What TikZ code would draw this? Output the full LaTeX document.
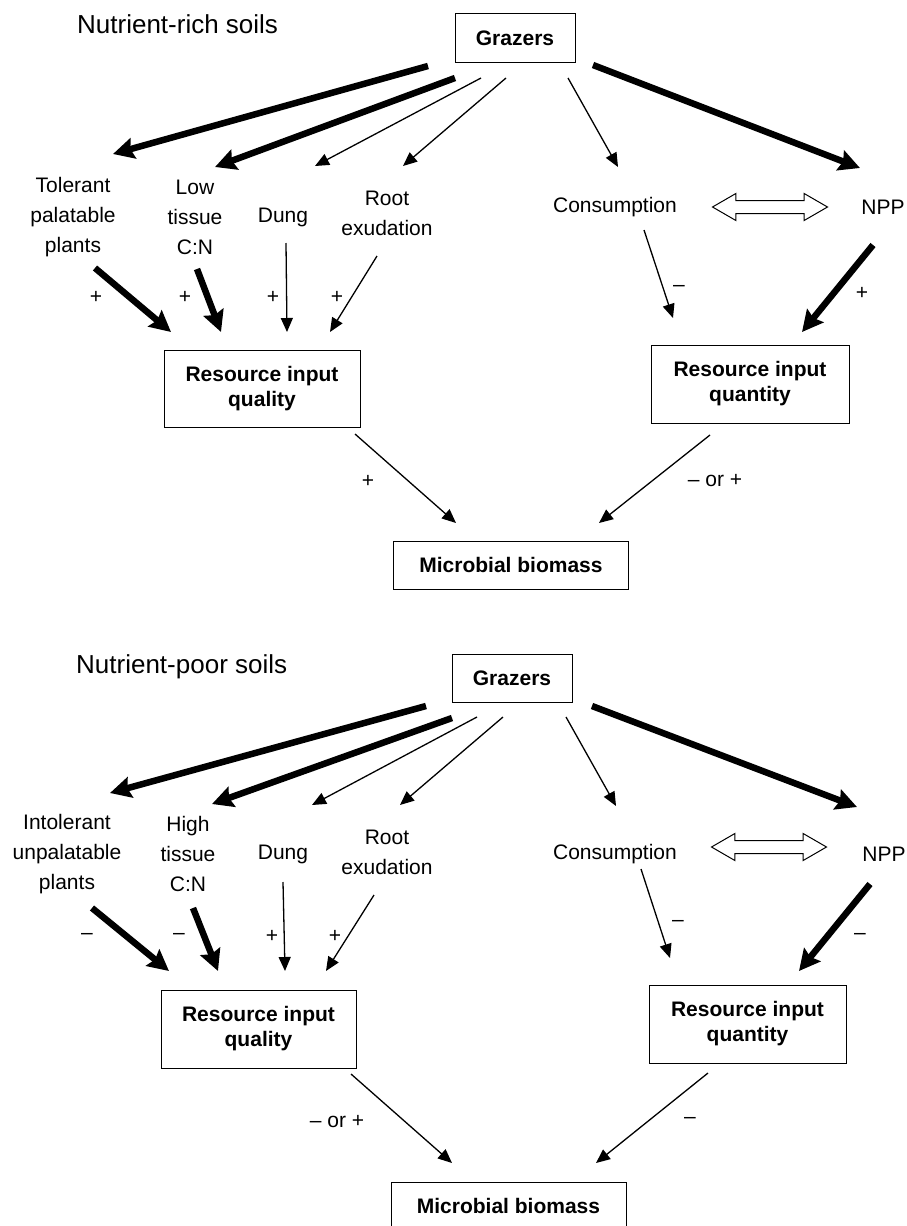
\documentclass[tikz,border=0pt]{standalone}
\usepackage{fontspec}
\setmainfont{Liberation Sans}
\usepackage{tikz}
\usetikzlibrary{arrows.meta, shapes.arrows}

\begin{document}
\begin{tikzpicture}[
    x=1pt, y=-1pt,
    box/.style   = {rectangle, draw, line width=1pt, align=center, inner sep=0pt,
                    font=\bfseries\fontsize{21}{25}\selectfont},
    lab/.style   = {align=center, inner sep=0pt, font=\fontsize{21}{30}\selectfont},
    sgn/.style   = {inner sep=0pt, font=\fontsize{21}{25}\selectfont},
    ttl/.style   = {anchor=base west, inner sep=0pt, font=\fontsize{26}{30}\selectfont},
    fat/.style   = {-{Stealth[length=21pt, width=21pt, inset=3pt]}, line width=6.5pt},
    slim/.style  = {-{Triangle[length=14pt, width=12pt]}, line width=1.3pt},
    swap/.style  = {double arrow, draw, line width=1pt, fill=white,
                    inner xsep=0pt, inner ysep=6pt,
                    minimum height=115pt, minimum width=26pt,
                    double arrow head extend=7pt, double arrow tip angle=60}
  ]
  \useasboundingbox (0,0) rectangle (907,1226);

  % ── Nutrient-rich soils ────────────────────────────────────────────────────
  \node[ttl] (title1) at (77,33) {Nutrient-rich soils};
  \node[box, minimum width=120pt, minimum height=49pt] (graz1) at (515,38) {Grazers};

  \node[lab] (tol)   at (73,217)  {Tolerant\\palatable\\plants};
  \node[lab] (low)   at (195,217) {Low\\tissue\\C:N};
  \node[lab] (dung1) at (283,217) {Dung};
  \node[lab] (root1) at (387,213) {Root\\exudation};
  \node[lab] (cons1) at (615,207) {Consumption};
  \node[lab] (npp1)  at (883,207) {NPP};
  \node[swap] (link1) at (770,207) {};

  \node[box, minimum width=196pt, minimum height=77pt] (qual1) at (262,389)
    {Resource input\\quality};
  \node[box, minimum width=198pt, minimum height=78pt] (quan1) at (750,384)
    {Resource input\\quantity};
  \node[box, minimum width=235pt, minimum height=48pt] (micro1) at (511,565)
    {Microbial biomass};

  \draw[fat]  ([shift={(-87,28)}]graz1.center) -- ([shift={(40,-63)}]tol.center);
  \draw[fat]  ([shift={(-60,40)}]graz1.center) -- ([shift={(20,-50)}]low.center);
  \draw[slim] ([shift={(-34,40)}]graz1.center) -- ([shift={(32,-51)}]dung1.center);
  \draw[slim] ([shift={(-9,40)}]graz1.center)  -- ([shift={(16,-47)}]root1.center);
  \draw[slim] ([shift={(53,40)}]graz1.center)  -- ([shift={(3,-40)}]cons1.center);
  \draw[fat]  ([shift={(78,27)}]graz1.center)  -- ([shift={(-23,-39)}]npp1.center);

  \draw[fat]  ([shift={(22,51)}]tol.center)    -- ([shift={(-91,-57)}]qual1.center);
  \draw[fat]  ([shift={(2,52)}]low.center)     -- ([shift={(-41,-57)}]qual1.center);
  \draw[slim] ([shift={(3,26)}]dung1.center)   -- ([shift={(25,-57)}]qual1.center);
  \draw[slim] ([shift={(-10,43)}]root1.center) -- ([shift={(68,-57)}]qual1.center);
  \draw[slim] ([shift={(29,23)}]cons1.center)  -- ([shift={(-77,-66)}]quan1.center);
  \draw[fat]  ([shift={(-10,38)}]npp1.center)  -- ([shift={(52,-52)}]quan1.center);
  \draw[slim] ([shift={(93,45)}]qual1.center)  -- ([shift={(-55,-42)}]micro1.center);
  \draw[slim] ([shift={(-40,51)}]quan1.center) -- ([shift={(88,-42)}]micro1.center);

  \node[sgn] (s11) at (96,297)  {+};
  \node[sgn] (s12) at (185,297) {+};
  \node[sgn] (s13) at (273,297) {+};
  \node[sgn] (s14) at (337,297) {+};
  \node[sgn] (s15) at (679,288) {--};
  \node[sgn] (s16) at (862,293) {+};
  \node[sgn] (s17) at (368,481) {+};
  \node[sgn] (s18) at (715,481) {-- or +};

  % ── Nutrient-poor soils ────────────────────────────────────────────────────
  \node[ttl] (title2) at (76,673) {Nutrient-poor soils};
  \node[box, minimum width=120pt, minimum height=48pt] (graz2) at (512,678) {Grazers};

  \node[lab] (intol) at (67,854)  {Intolerant\\unpalatable\\plants};
  \node[lab] (high)  at (188,854) {High\\tissue\\C:N};
  \node[lab] (dung2) at (283,854) {Dung};
  \node[lab] (root2) at (387,852) {Root\\exudation};
  \node[lab] (cons2) at (615,854) {Consumption};
  \node[lab] (npp2)  at (884,854) {NPP};
  \node[swap] (link2) at (769,847) {};

  \node[box, minimum width=195pt, minimum height=78pt] (qual2) at (258.5,1029)
    {Resource input\\quality};
  \node[box, minimum width=197pt, minimum height=78pt] (quan2) at (747.5,1024)
    {Resource input\\quantity};
  \node[box, minimum width=235pt, minimum height=48pt] (micro2) at (508.5,1206)
    {Microbial biomass};

  \draw[fat]  ([shift={(-86,28)}]graz2.center) -- ([shift={(43,-61)}]intol.center);
  \draw[fat]  ([shift={(-60,40)}]graz2.center) -- ([shift={(24,-50)}]high.center);
  \draw[slim] ([shift={(-35,39)}]graz2.center) -- ([shift={(29,-49)}]dung2.center);
  \draw[slim] ([shift={(-9,39)}]graz2.center)  -- ([shift={(13,-47)}]root2.center);
  \draw[slim] ([shift={(54,39)}]graz2.center)  -- ([shift={(1,-48)}]cons2.center);
  \draw[fat]  ([shift={(80,28)}]graz2.center)  -- ([shift={(-27,-47)}]npp2.center);

  \draw[fat]  ([shift={(25,54)}]intol.center)  -- ([shift={(-89.5,-58)}]qual2.center);
  \draw[fat]  ([shift={(5,54)}]high.center)    -- ([shift={(-40.5,-58)}]qual2.center);
  \draw[slim] ([shift={(0,28)}]dung2.center)   -- ([shift={(26.5,-58)}]qual2.center);
  \draw[slim] ([shift={(-13,43)}]root2.center) -- ([shift={(67.5,-58)}]qual2.center);
  \draw[slim] ([shift={(26,15)}]cons2.center)  -- ([shift={(-77.5,-66)}]quan2.center);
  \draw[fat]  ([shift={(-14,30)}]npp2.center)  -- ([shift={(51.5,-53)}]quan2.center);
  \draw[slim] ([shift={(92.5,45)}]qual2.center) -- ([shift={(-56.5,-43)}]micro2.center);
  \draw[slim] ([shift={(-39.5,49)}]quan2.center) -- ([shift={(87.5,-43)}]micro2.center);

  \node[sgn] (s21) at (87,936)   {--};
  \node[sgn] (s22) at (179,936)  {--};
  \node[sgn] (s23) at (272,936)  {+};
  \node[sgn] (s24) at (335,936)  {+};
  \node[sgn] (s25) at (678,923)  {--};
  \node[sgn] (s26) at (860,936)  {--};
  \node[sgn] (s27) at (337,1122) {-- or +};
  \node[sgn] (s28) at (690,1120) {--};

\end{tikzpicture}
\end{document}
